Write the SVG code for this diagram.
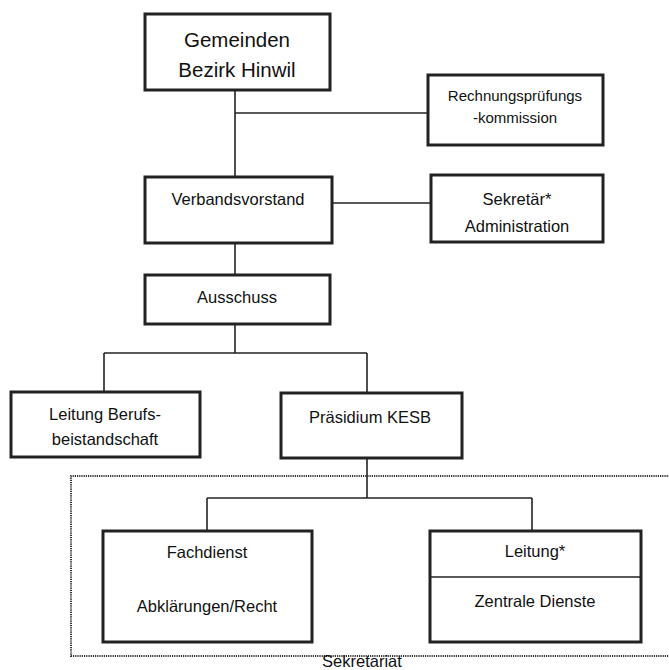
<svg xmlns="http://www.w3.org/2000/svg" width="669" height="670" viewBox="0 0 669 670">
<style>
.box{fill:#fff;stroke:#222;stroke-width:3}
.con{fill:none;stroke:#222;stroke-width:1.6}
.dot{fill:none;stroke:#333;stroke-width:2;stroke-dasharray:1.2 1}
text{font-family:"Liberation Sans",Arial,sans-serif;fill:#111;text-anchor:middle}
.t{font-size:16.5px}
.s{font-size:15px}
.l{font-size:20.5px}
</style>
<rect width="669" height="670" fill="#fff"/>
<g id="sekretariat">
<path class="dot" d="M670,476 H71 V656 H670"/>
<text class="t" x="362" y="667">Sekretariat</text>
</g>
<g id="connectors">
<path class="con" d="M235,90 V177"/>
<path class="con" d="M235,113 H428"/>
<path class="con" d="M332,203 H431"/>
<path class="con" d="M235,243 V275"/>
<path class="con" d="M235,324 V353"/>
<path class="con" d="M104,353 H367"/>
<path class="con" d="M104,353 V392"/>
<path class="con" d="M367,353 V393"/>
<path class="con" d="M367,458 V498"/>
<path class="con" d="M207,498 H532"/>
<path class="con" d="M207,498 V531"/>
<path class="con" d="M532,498 V531"/>
</g>
<g id="gemeinden">
<rect class="box" x="145" y="14" width="185" height="76"/>
<text class="l" x="237" y="47">Gemeinden</text>
<text class="l" x="237" y="77">Bezirk Hinwil</text>
</g>
<g id="rpk">
<rect class="box" x="428" y="75" width="175" height="70"/>
<text class="s" x="515" y="101">Rechnungsprüfungs</text>
<text class="s" x="515" y="123">-kommission</text>
</g>
<g id="verbandsvorstand">
<rect class="box" x="145" y="177" width="187" height="66"/>
<text class="t" x="238" y="205">Verbandsvorstand</text>
</g>
<g id="sekretaer">
<rect class="box" x="431" y="175" width="172" height="67"/>
<text class="t" x="517" y="205">Sekretär*</text>
<text class="t" x="517" y="232">Administration</text>
</g>
<g id="ausschuss">
<rect class="box" x="145" y="275" width="185" height="49"/>
<text class="t" x="237" y="303">Ausschuss</text>
</g>
<g id="leitung-berufsbeistandschaft">
<rect class="box" x="11" y="392" width="189" height="65"/>
<text class="t" x="105" y="420">Leitung Berufs-</text>
<text class="t" x="105" y="445">beistandschaft</text>
</g>
<g id="praesidium">
<rect class="box" x="281" y="393" width="181" height="65"/>
<text class="t" x="370" y="423">Präsidium KESB</text>
</g>
<g id="fachdienst">
<rect class="box" x="103" y="531" width="209" height="111"/>
<text class="t" x="207" y="558">Fachdienst</text>
<text class="t" x="207" y="612">Abklärungen/Recht</text>
</g>
<g id="leitung-zentrale-dienste">
<rect class="box" x="430" y="531" width="211" height="111"/>
<path class="con" d="M430,577 H641"/>
<text class="t" x="535" y="557">Leitung*</text>
<text class="t" x="535" y="607">Zentrale Dienste</text>
</g>
</svg>
